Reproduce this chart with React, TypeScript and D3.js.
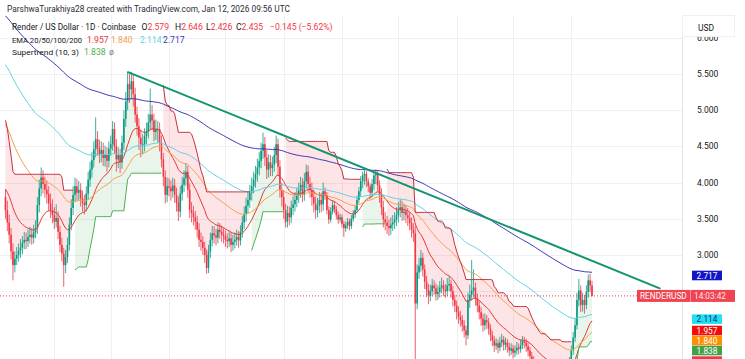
import React from "react";
import * as d3 from "d3";

const W = 745;
const H = 359;

// daily candles, Mar 6 2025 -> Jan 12 2026 (open = previous close)
const firstOpen = 3.8;
const lastDate = new Date(2026, 0, 12);

const closes = [
  3.62, 3.45, 3.28, 3.05, 2.86, 2.95, 3.0, 3.06, 3.1, 3.17,
  3.21, 3.19, 3.25, 3.28, 3.24, 3.31, 3.37, 3.69, 3.92, 4.07,
  3.98, 3.9, 3.84, 3.71, 3.62, 3.55, 3.46, 3.51, 3.32, 3.14,
  3.02, 2.86, 2.97, 3.14, 3.42, 3.65, 3.83, 3.95, 3.86, 3.9,
  3.78, 3.72, 3.69, 3.85, 4.04, 4.18, 4.31, 4.46, 4.6, 4.48,
  4.39, 4.45, 4.34, 4.39, 4.3, 4.47, 4.53, 4.74, 4.5, 4.32,
  4.38, 4.28, 4.55, 4.88, 5.12, 5.36, 5.29, 5.4, 5.22, 4.94,
  4.78, 4.62, 4.53, 4.53, 4.64, 4.71, 4.83, 4.94, 4.86, 4.7,
  4.74, 4.74, 4.55, 4.32, 4.08, 3.83, 3.95, 3.93, 3.88, 3.96,
  3.83, 3.72, 3.6, 3.85, 3.97, 4.06, 4.15, 3.9, 3.62, 3.58,
  3.52, 3.46, 3.35, 3.21, 3.18, 3.1, 3.0, 2.82, 3.05, 3.21,
  3.3, 3.27, 3.24, 3.35, 3.32, 3.28, 3.26, 3.21, 3.19, 3.23,
  3.14, 3.18, 3.21, 3.25, 3.2, 3.32, 3.45, 3.56, 3.68, 3.76,
  3.86, 3.95, 4.04, 4.12, 4.21, 4.3, 4.44, 4.53, 4.35, 4.18,
  4.28, 4.2, 4.25, 4.38, 4.53, 4.22, 3.9, 3.8, 3.62, 3.46,
  3.58, 3.52, 3.65, 3.7, 3.76, 3.82, 3.89, 3.97, 3.83, 4.02,
  4.15, 3.98, 3.9, 3.8, 3.71, 3.62, 3.68, 3.76, 3.7, 3.88,
  3.83, 3.62, 3.49, 3.6, 3.69, 3.63, 3.55, 3.49, 3.52, 3.43,
  3.37, 3.41, 3.46, 3.4, 3.5, 3.56, 3.62, 3.76, 3.88, 4.02,
  4.1, 4.12, 4.02, 3.95, 3.86, 3.98, 4.1, 4.12, 3.96, 3.83,
  3.66, 3.49, 3.45, 3.4, 3.37, 3.42, 3.45, 3.49, 3.55, 3.62,
  3.66, 3.58, 3.6, 3.55, 3.51, 3.44, 3.35, 3.3, 2.33, 2.76,
  2.85, 2.96, 2.8, 2.63, 2.52, 2.44, 2.5, 2.58, 2.54, 2.46,
  2.49, 2.55, 2.58, 2.52, 2.5, 2.58, 2.6, 2.5, 2.38, 2.3,
  2.21, 2.15, 2.1, 2.03, 1.96, 1.89, 2.38, 2.45, 2.51, 2.55,
  2.4, 2.3, 2.21, 2.12, 2.03, 2.1, 2.07, 1.98, 1.89, 1.82,
  1.75, 1.78, 1.72, 1.79, 1.83, 1.76, 1.79, 1.73, 1.68, 1.71,
  1.65, 1.68, 1.72, 1.7, 1.75, 1.81, 1.79, 1.74, 1.68, 1.6,
  1.54, 1.48, 1.44, 1.4, 1.38, 1.36, 1.41, 1.37, 1.35, 1.33,
  1.3, 1.34, 1.37, 1.4, 1.38, 1.35, 1.31, 1.33, 1.37, 1.43,
  1.52, 1.68, 1.86, 2.03, 2.38, 2.51, 2.31, 2.38, 2.31, 2.49,
  2.65, 2.579, 2.435,
];

const highs = [
  3.91, 3.75, 3.56, 3.37, 3.16, 3.05, 3.11, 3.16, 3.22, 3.26,
  3.32, 3.31, 3.35, 3.39, 3.37, 3.42, 3.48, 3.8, 4.04, 4.21,
  4.17, 4.08, 4.03, 3.95, 3.85, 3.77, 3.66, 3.7, 3.6, 3.4,
  3.24, 3.1, 3.07, 3.24, 3.52, 3.77, 3.95, 4.07, 4.05, 4.02,
  3.99, 3.89, 3.83, 3.95, 4.15, 4.29, 4.42, 4.57, 4.9, 4.71,
  4.59, 4.57, 4.55, 4.51, 4.49, 4.57, 4.65, 4.85, 4.83, 4.6,
  4.49, 4.47, 4.65, 5.0, 5.25, 5.53, 5.5, 5.53, 5.49, 5.31,
  5.05, 4.89, 4.73, 4.67, 4.75, 4.83, 4.95, 5.3, 5.07, 4.95,
  4.87, 4.85, 4.83, 4.65, 4.41, 4.17, 4.07, 4.06, 4.03, 4.07,
  4.05, 3.93, 3.81, 3.95, 4.08, 4.17, 4.27, 4.23, 3.99, 3.73,
  3.68, 3.61, 3.54, 3.44, 3.31, 3.26, 3.18, 3.08, 3.14, 3.31,
  3.4, 3.4, 3.36, 3.45, 3.44, 3.41, 3.37, 3.34, 3.3, 3.33,
  3.31, 3.28, 3.31, 3.35, 3.33, 3.41, 3.54, 3.67, 3.79, 3.87,
  3.97, 4.07, 4.15, 4.23, 4.33, 4.42, 4.55, 4.69, 4.63, 4.45,
  4.39, 4.38, 4.36, 4.49, 4.65, 4.61, 4.31, 4.0, 3.9, 3.71,
  3.68, 3.67, 3.75, 3.81, 3.87, 3.93, 4.0, 4.08, 4.06, 4.13,
  4.25, 4.24, 4.08, 4.0, 3.9, 3.81, 3.79, 3.87, 3.86, 4.0,
  3.93, 3.87, 3.67, 3.66, 3.75, 3.74, 3.68, 3.6, 3.57, 3.56,
  3.47, 3.46, 3.51, 3.5, 3.55, 3.62, 3.68, 3.82, 3.94, 4.09,
  4.15, 4.17, 4.16, 4.06, 3.99, 4.05, 4.14, 4.18, 4.17, 4.03,
  3.92, 3.75, 3.59, 3.54, 3.49, 3.52, 3.55, 3.59, 3.66, 3.73,
  3.77, 3.75, 3.71, 3.69, 3.65, 3.59, 3.52, 3.44, 3.4, 2.87,
  2.96, 3.07, 3.03, 2.87, 2.71, 2.6, 2.59, 2.67, 2.65, 2.61,
  2.58, 2.64, 2.69, 2.65, 2.6, 2.68, 2.7, 2.66, 2.57, 2.45,
  2.37, 2.29, 2.23, 2.17, 2.1, 2.02, 2.48, 2.59, 2.93, 2.8,
  2.62, 2.47, 2.37, 2.28, 2.19, 2.19, 2.17, 2.13, 2.04, 1.95,
  1.88, 1.85, 1.83, 1.87, 1.91, 1.88, 1.86, 1.84, 1.79, 1.78,
  1.76, 1.75, 1.8, 1.78, 1.83, 1.88, 1.87, 1.84, 1.79, 1.73,
  1.66, 1.6, 1.54, 1.5, 1.46, 1.44, 1.48, 1.46, 1.43, 1.41,
  1.39, 1.4, 1.43, 1.47, 1.45, 1.43, 1.4, 1.39, 1.43, 1.5,
  1.59, 1.75, 1.94, 2.13, 2.48, 2.67, 2.58, 2.48, 2.45, 2.58,
  2.73, 2.74, 2.646,
];

const lows = [
  3.5, 3.33, 3.16, 2.94, 2.65, 2.76, 2.86, 2.91, 2.96, 3.01,
  3.08, 3.08, 3.11, 3.16, 3.14, 3.16, 3.23, 3.29, 3.59, 3.81,
  3.85, 3.79, 3.71, 3.61, 3.51, 3.44, 3.36, 3.38, 3.22, 3.04,
  2.91, 2.56, 2.75, 2.89, 3.06, 3.34, 3.55, 3.73, 3.75, 3.76,
  3.67, 3.6, 3.56, 3.6, 3.77, 3.94, 4.07, 4.21, 4.35, 4.37,
  4.27, 4.28, 4.23, 4.22, 4.15, 4.21, 4.37, 4.44, 4.4, 4.15,
  4.2, 4.13, 4.19, 4.45, 4.77, 5.0, 5.1, 5.15, 5.05, 4.83,
  4.65, 4.45, 4.35, 4.39, 4.43, 4.53, 4.61, 4.73, 4.73, 4.57,
  4.59, 4.55, 4.43, 4.21, 3.95, 3.71, 3.73, 3.81, 3.75, 3.79,
  3.72, 3.6, 3.47, 3.52, 3.75, 3.87, 3.95, 3.79, 3.51, 3.45,
  3.41, 3.35, 3.24, 3.11, 3.06, 3.0, 2.89, 2.74, 2.75, 2.96,
  3.12, 3.16, 3.13, 3.16, 3.22, 3.18, 3.16, 3.11, 3.09, 3.11,
  3.04, 3.06, 3.09, 3.13, 3.1, 3.13, 3.24, 3.36, 3.46, 3.57,
  3.65, 3.75, 3.85, 3.93, 4.01, 4.1, 4.2, 4.33, 4.23, 4.05,
  4.07, 4.09, 4.09, 4.15, 4.27, 4.1, 3.79, 3.67, 3.5, 3.38,
  3.38, 3.41, 3.44, 3.55, 3.6, 3.66, 3.72, 3.79, 3.73, 3.75,
  3.92, 3.87, 3.79, 3.68, 3.59, 3.5, 3.52, 3.58, 3.59, 3.61,
  3.76, 3.56, 3.43, 3.45, 3.56, 3.58, 3.49, 3.43, 3.45, 3.38,
  3.25, 3.32, 3.36, 3.34, 3.36, 3.46, 3.51, 3.58, 3.71, 3.8,
  3.92, 3.97, 3.94, 3.87, 3.78, 3.8, 3.9, 3.98, 3.88, 3.72,
  3.55, 3.38, 3.34, 3.29, 3.26, 3.28, 3.33, 3.36, 3.4, 3.45,
  3.52, 3.47, 3.48, 3.44, 3.4, 3.34, 3.24, 3.18, 0.9, 2.25,
  2.67, 2.77, 2.7, 2.53, 2.42, 2.32, 2.36, 2.43, 2.45, 2.37,
  2.38, 2.41, 2.47, 2.43, 2.41, 2.43, 2.5, 2.41, 2.29, 2.21,
  2.11, 2.05, 2.01, 1.94, 1.86, 1.75, 1.84, 2.27, 2.37, 2.41,
  2.3, 2.21, 2.11, 2.02, 1.94, 1.96, 1.98, 1.9, 1.81, 1.74,
  1.66, 1.69, 1.64, 1.67, 1.73, 1.68, 1.69, 1.65, 1.6, 1.62,
  1.57, 1.59, 1.62, 1.63, 1.65, 1.7, 1.71, 1.66, 1.6, 1.52,
  1.46, 1.4, 1.36, 1.33, 1.3, 1.28, 1.31, 1.3, 1.28, 1.26,
  1.23, 1.25, 1.29, 1.32, 1.31, 1.28, 1.24, 1.26, 1.28, 1.32,
  1.38, 1.47, 1.62, 1.8, 1.97, 2.29, 2.21, 2.22, 2.19, 2.25,
  2.41, 2.49, 2.426,
];

// EMA 20/50/100/200, seeded with the values read at the left edge
const emaPeriods = [20, 50, 100, 200];
const emaSeeds = [3.94, 4.85, 5.67, 6.33];
const emaColors = ["#e53935", "#f5a04a", "#5fd3e3", "#3a36b4"];
const emaLast = ["1.957", "1.840", "2.114", "2.717"];
const emaBoxColors = ["#f20d0d", "#ff8f00", "#1fe0f5", "#1414c8"];

// Supertrend (10, 3), state carried in from before the window
const stPeriod = 10;
const stFactor = 3;
const stSeed = { atr: 0.4, upper: 4.86, lower: 2.6 };
const stLast = "1.838";

// hand drawn trend line: [bar index, price]
const trendLine = [
  [65.2, 5.525],
  [348, 2.54],
];

const gridTicks = [2.5, 3, 3.5, 4, 4.5, 5, 5.5, 6];
const labelTicks = [3, 3.5, 4, 4.5, 5, 5.5, 6];
const ohlcLegend = [
  ["O", "2.579"],
  ["H", "2.646"],
  ["L", "2.426"],
  ["C", "2.435"],
];
const changeLegend = "\u22120.145 (\u22125.62%)";

const UP = "#089981";
const DOWN = "#f23645";
const FONT = "Roboto, 'Liberation Sans', Arial, sans-serif";

function ema(values: number[], period: number, seed: number) {
  const a = 2 / (period + 1);
  let e = seed;
  return values.map((v) => (e = e + a * (v - e)));
}

function supertrend(o: number[], h: number[], l: number[], c: number[]) {
  let atr = stSeed.atr;
  let prevUpper = stSeed.upper;
  let prevLower = stSeed.lower;
  let prevSt = prevUpper;
  const out: { st: number; dir: number }[] = [];
  for (let i = 0; i < c.length; i++) {
    const pc = i === 0 ? o[0] : c[i - 1];
    const tr = Math.max(h[i] - l[i], Math.abs(h[i] - pc), Math.abs(l[i] - pc));
    atr = (atr * (stPeriod - 1) + tr) / stPeriod;
    const src = (h[i] + l[i]) / 2;
    let ub = src + stFactor * atr;
    let lb = src - stFactor * atr;
    lb = lb > prevLower || pc < prevLower ? lb : prevLower;
    ub = ub < prevUpper || pc > prevUpper ? ub : prevUpper;
    let dir;
    if (prevSt === prevUpper) dir = c[i] > ub ? -1 : 1;
    else dir = c[i] < lb ? 1 : -1;
    const st = dir === -1 ? lb : ub;
    out.push({ st, dir });
    prevUpper = ub;
    prevLower = lb;
    prevSt = st;
  }
  return out;
}

export default function App() {
  const N = closes.length;
  const opens = closes.map((c, i) => (i === 0 ? firstOpen : closes[i - 1]));
  const hi = highs.map((v, i) => Math.max(v, opens[i], closes[i]));
  const lo = lows.map((v, i) => Math.min(v, opens[i], closes[i]));

  const x = d3.scaleLinear().domain([0, N - 1]).range([5.44, 592]);
  const y = d3.scaleLinear().domain([3, 5.5]).range([255, 74]);

  const plotRight = 682;
  const plotTop = 15;

  const startDate = d3.timeDay.offset(lastDate, -(N - 1));
  const months = d3.timeMonth.range(d3.timeMonth.ceil(startDate), lastDate);
  const monthIdx = months.map((m) => d3.timeDay.count(startDate, m));

  const emas = emaPeriods.map((p, k) => ema(closes, p, emaSeeds[k]));
  const st = supertrend(opens, hi, lo, closes);

  // split supertrend into runs of equal direction
  const runs: { dir: number; pts: { i: number; st: number; mid: number }[] }[] = [];
  st.forEach((s, i) => {
    const mid = (opens[i] + closes[i]) / 2;
    const last = runs[runs.length - 1];
    if (!last || last.dir !== s.dir) runs.push({ dir: s.dir, pts: [] });
    runs[runs.length - 1].pts.push({ i, st: s.st, mid });
  });

  const line = d3
    .line<number>()
    .x((_, i) => x(i))
    .y((d) => y(d));
  const stLine = d3
    .line<{ i: number; st: number }>()
    .x((d) => x(d.i))
    .y((d) => y(d.st));
  const stArea = d3
    .area<{ i: number; st: number; mid: number }>()
    .x((d) => x(d.i))
    .y0((d) => y(d.mid))
    .y1((d) => y(d.st));

  // right axis value boxes, stacked downward when they collide
  const boxes = [
    { v: +emaLast[3], text: emaLast[3], fill: emaBoxColors[3], color: "#fff" },
    { v: +emaLast[2], text: emaLast[2], fill: emaBoxColors[2], color: "#1a2a6c" },
    { v: +emaLast[0], text: emaLast[0], fill: emaBoxColors[0], color: "#fff" },
    { v: +emaLast[1], text: emaLast[1], fill: emaBoxColors[1], color: "#fff" },
    { v: +stLast, text: stLast, fill: "#43a047", color: "#fff" },
  ];
  let prevC = -Infinity;
  const boxPos = boxes.map((b) => {
    const c = Math.max(y(b.v), prevC + 10);
    prevC = c;
    return { ...b, cy: c };
  });

  const lastClose = closes[N - 1];
  const bw = 1.6;

  return (
    <svg
      width={W}
      height={H}
      style={{ position: "absolute", left: 0, top: 0, background: "#fff" }}
      fontFamily={FONT}
    >
      <defs>
        <clipPath id="plot">
          <rect x={0} y={plotTop} width={plotRight} height={H - plotTop} />
        </clipPath>
      </defs>
      <rect width={W} height={H} fill="#fff" />

      {/* grid */}
      <g stroke="#eef0f4" strokeWidth={1}>
        {gridTicks.map((t) => (
          <line key={t} x1={0} x2={plotRight} y1={Math.round(y(t)) + 0.5} y2={Math.round(y(t)) + 0.5} />
        ))}
        {monthIdx.map((m) => (
          <line key={m} x1={Math.round(x(m)) + 0.5} x2={Math.round(x(m)) + 0.5} y1={plotTop} y2={H} />
        ))}
      </g>

      <g clipPath="url(#plot)">
        {/* supertrend fills */}
        {runs.map((r, k) => (
          <path
            key={"f" + k}
            d={stArea(r.pts) || ""}
            fill={r.dir === 1 ? "rgba(242,54,69,0.13)" : "rgba(76,175,80,0.12)"}
          />
        ))}

        {/* candles */}
        {closes.map((c, i) => {
          const o = opens[i];
          const col = c >= o ? UP : DOWN;
          const top = y(Math.max(o, c));
          const bot = y(Math.min(o, c));
          return (
            <g key={i}>
              <line x1={x(i)} x2={x(i)} y1={y(hi[i])} y2={y(lo[i])} stroke={col} strokeWidth={0.8} />
              <rect x={x(i) - bw / 2} y={top} width={bw} height={Math.max(bot - top, 0.8)} fill={col} />
            </g>
          );
        })}

        {/* EMAs */}
        {emas.map((e, k) => (
          <path key={"e" + k} d={line(e) || ""} fill="none" stroke={emaColors[k]} strokeWidth={1} />
        ))}

        {/* supertrend lines */}
        {runs.map((r, k) => (
          <path
            key={"s" + k}
            d={stLine(r.pts) || ""}
            fill="none"
            stroke={r.dir === 1 ? "#c62f3b" : "#4caf50"}
            strokeWidth={1}
          />
        ))}

        {/* trend line */}
        <line
          x1={x(trendLine[0][0])}
          y1={y(trendLine[0][1])}
          x2={x(trendLine[1][0])}
          y2={y(trendLine[1][1])}
          stroke="#13946f"
          strokeWidth={2}
          strokeLinecap="round"
        />

        {/* last price line */}
        <line
          x1={0}
          x2={plotRight}
          y1={y(lastClose)}
          y2={y(lastClose)}
          stroke={DOWN}
          strokeWidth={1}
          strokeDasharray="1 2"
        />
      </g>

      {/* header + legend */}
      <text x={7} y={12} fontSize={8.6} fill="#2a2e39" textLength={283} lengthAdjust="spacingAndGlyphs">
        ParshwaTurakhiya28 created with TradingView.com, Jan 12, 2026 09:56 UTC
      </text>
      <g fontSize={8.6}>
        <text x={12} y={30} fill="#131722" textLength={124} lengthAdjust="spacingAndGlyphs">
          Render / US Dollar · 1D · Coinbase
        </text>
        {ohlcLegend.map(([k, v], j) => (
          <text key={k} x={[141.5, 175, 206, 236][j]} y={30} fill="#131722">
            {k}
            <tspan fill={DOWN}>{v}</tspan>
          </text>
        ))}
        <text x={270} y={30} fill={DOWN}>
          {changeLegend}
        </text>

        <text x={12} y={42.5} fontSize={7.9} fill="#131722" textLength={70} lengthAdjust="spacingAndGlyphs">
          EMA 20/50/100/200
        </text>
        {emaLast.map((v, k) => (
          <text key={v} x={[87, 111, 140, 163][k]} y={42.5} fill={emaColors[k]}>
            {v}
          </text>
        ))}

        <text x={12} y={55} fontSize={8.1} fill="#131722" textLength={67} lengthAdjust="spacingAndGlyphs">
          Supertrend (10, 3)
        </text>
        <text x={84} y={55} fill="#4caf50">
          {stLast}
        </text>
        <text x={109} y={55} fill="#787b86">
          ø
        </text>
      </g>

      {/* price axis */}
      <line x1={plotRight + 0.5} x2={plotRight + 0.5} y1={plotTop} y2={H} stroke="#e0e3eb" />
      <g fontSize={8.5} fill="#131722">
        {labelTicks.map((t) => (
          <text key={t} x={697} y={y(t)} dominantBaseline="central">
            {d3.format(".3f")(t)}
          </text>
        ))}
      </g>
      <rect x={plotRight + 0.5} y={plotTop + 0.5} width={52} height={21} fill="#fff" stroke="#eef0f4" />
      <text x={698} y={28} fontSize={8.5} fill="#131722" dominantBaseline="central">
        USD
      </text>

      {boxPos.map((b) => (
        <g key={b.text + b.fill}>
          <rect x={692} y={b.cy - 4.8} width={30} height={9.6} fill={b.fill} />
          <text x={707} y={b.cy + 0.3} fontSize={8.3} fill={b.color} textAnchor="middle" dominantBaseline="central">
            {b.text}
          </text>
        </g>
      ))}
      <rect x={692} y={boxPos[boxPos.length - 1].cy + 5.8} width={30} height={9.6} fill={DOWN} />

      {/* symbol + countdown label */}
      <rect x={637} y={y(lastClose) - 6} width={98} height={12} fill="#ef4452" />
      <line x1={690.5} x2={690.5} y1={y(lastClose) - 6} y2={y(lastClose) + 6} stroke="#f7a1a8" strokeWidth={0.8} />
      <text x={640} y={y(lastClose) + 0.3} fontSize={8.3} fill="#fff" dominantBaseline="central">
        RENDERUSD
      </text>
      <text x={694} y={y(lastClose) + 0.3} fontSize={8.3} fill="#ffe3e5" dominantBaseline="central">
        14:03:42
      </text>
    </svg>
  );
}
